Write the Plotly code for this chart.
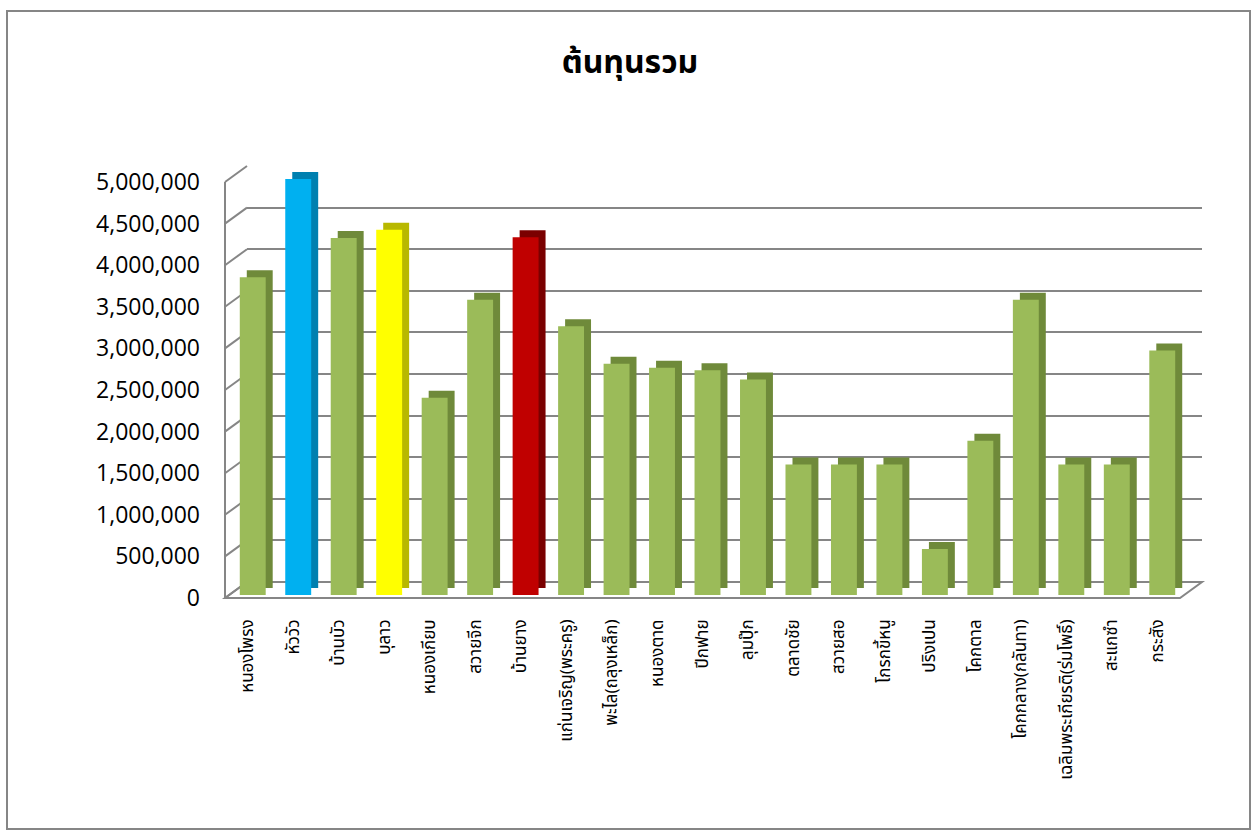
import plotly.graph_objects as go

# ---------------- data ----------------
categories = [
    "หนองโพรง", "หัววัว", "บ้านบัว", "บุลาว", "หนองเกียบ", "สวายจีก", "บ้านยาง",
    "แก่นเจริญ(พระครู)", "พะไล(ถลุงเหล็ก)", "หนองตาด", "ปีกฟาย", "ลุมปุ๊ก",
    "ตลาดชัย", "สวายสอ", "โกรกขี้หนู", "ปริงเปน", "โคกตาล", "โคกกลาง(กลันทา)",
    "เฉลิมพระเกียรติ(ร่มโพธิ์)", "สะแกซำ", "กระสัง",
]
values = [
    3820000, 5000000, 4290000, 4390000, 2370000, 3550000, 4300000,
    3230000, 2780000, 2730000, 2700000, 2590000,
    1570000, 1570000, 1570000, 553000, 1855000, 3550000,
    1570000, 1570000, 2940000,
]
tick_values = [0, 500000, 1000000, 1500000, 2000000, 2500000,
               3000000, 3500000, 4000000, 4500000, 5000000]
title_text = "ต้นทุนรวม"

# ---------------- styles ----------------
highlight = {"หัววัว": ("#00B0F0", "#0080B0"),
             "บุลาว": ("#FFFF00", "#B8B800"),
             "บ้านยาง": ("#C00000", "#7A0000")}
front_colors = [highlight.get(c, ("#9BBB59", ""))[0] for c in categories]
side_colors = [highlight.get(c, ("", "#6F8A3A"))[1] for c in categories]

W, H = 1257, 832
L, R, T, B = 225, 50, 164, 234
PW = W - L - R   # 982
PH = H - T - B   # 434
DX, DY = 22, 16          # depth offset of back wall
FRONT_W = 955            # front axis length
FRONT_H = 416            # 0 -> 5M on front axis
YMAX = 5000000
grid_col = "#868686"
thai_font = "Noto Sans Thai, Tahoma, Noto Sans, sans-serif"

fig = go.Figure()

# invisible trace on the front axes (category labels / value ticks)
fig.add_trace(go.Scatter(x=categories, y=[0] * len(categories), xaxis="x", yaxis="y",
                         mode="markers", marker=dict(opacity=0),
                         showlegend=False, hoverinfo="skip"))
# invisible trace to activate back-wall axes
fig.add_trace(go.Scatter(x=categories, y=[0] * len(categories), xaxis="x2", yaxis="y2",
                         mode="markers", marker=dict(opacity=0),
                         showlegend=False, hoverinfo="skip"))
# depth (side/top) faces
fig.add_trace(go.Bar(x=categories, y=values, xaxis="x3", yaxis="y3",
                     marker=dict(color=side_colors, line=dict(width=0)),
                     width=0.57, showlegend=False, hoverinfo="skip"))
# front faces
fig.add_trace(go.Bar(x=categories, y=values, xaxis="x4", yaxis="y4",
                     marker=dict(color=front_colors, line=dict(width=0)),
                     width=0.57, showlegend=False))

def dom_x(off, length):
    return [off / PW, min(1.0, (off + length) / PW)]

def dom_y(off, length):
    return [off / PH, min(1.0, (off + length) / PH)]

xr = [-0.5, len(categories) - 0.5]
hidden = dict(showgrid=False, showticklabels=False, zeroline=False,
              showline=False, ticks="", automargin=False)

fig.update_layout(
    width=W, height=H,
    margin=dict(l=L, r=R, t=T, b=B, pad=0),
    paper_bgcolor="white", plot_bgcolor="rgba(0,0,0,0)",
    bargap=0.43,
    title=dict(text=f"<b>{title_text}</b>", x=630 / W, xanchor="center",
               y=1 - 62 / H, yanchor="middle", yref="container",
               font=dict(family=thai_font, size=32, color="black")),
    xaxis=dict(domain=dom_x(0, FRONT_W), range=xr, type="category",
               tickangle=-90, showgrid=False, zeroline=False, showline=False,
               ticks="", automargin=False, ticklabelstandoff=17,
               tickfont=dict(family=thai_font, size=17, color="black"),
               anchor="y"),
    yaxis=dict(domain=[0, 1], range=[0, YMAX * PH / FRONT_H], tickvals=tick_values,
               tickformat=",", showgrid=False, zeroline=False, showline=False,
               ticks="", automargin=False, ticklabelstandoff=24,
               tickfont=dict(family="Open Sans", size=23, color="black"),
               anchor="x"),
    xaxis2=dict(domain=dom_x(DX, FRONT_W), range=xr, type="category",
                anchor="y2", **hidden),
    yaxis2=dict(domain=dom_y(DY, FRONT_H), range=[0, YMAX], tickvals=tick_values,
                showgrid=True, gridcolor=grid_col, gridwidth=2,
                showticklabels=False, zeroline=False, showline=False, ticks="",
                automargin=False, anchor="x2"),
    xaxis3=dict(domain=dom_x(12, FRONT_W), range=xr, type="category",
                anchor="y3", **hidden),
    yaxis3=dict(domain=dom_y(10, FRONT_H), range=[0, YMAX], anchor="x3", **hidden),
    xaxis4=dict(domain=dom_x(5, FRONT_W), range=xr, type="category",
                anchor="y4", **hidden),
    yaxis4=dict(domain=dom_y(3, FRONT_H), range=[0, YMAX], anchor="x4", **hidden),
)

shapes = []
# floor parallelogram
fx1 = FRONT_W / PW
bx0, bx1 = DX / PW, (DX + FRONT_W) / PW
by = DY / PH
shapes.append(dict(type="path", xref="paper", yref="paper", layer="below",
                   path=f"M 0 0 L {fx1} 0 L {bx1} {by} L {bx0} {by} Z",
                   line=dict(color=grid_col, width=2), fillcolor="white"))
# front vertical edge of the side wall
shapes.append(dict(type="line", xref="paper", yref="y", layer="below",
                   x0=0, y0=0, x1=0, y1=YMAX,
                   line=dict(color=grid_col, width=2)))
# left side-wall diagonals at each tick
dv = DY / FRONT_H * YMAX
for t in tick_values:
    shapes.append(dict(type="line", xref="paper", yref="y", layer="below",
                       x0=0, y0=t, x1=DX / PW, y1=t + dv,
                       line=dict(color=grid_col, width=2)))
# outer chart border
shapes.append(dict(type="rect", xref="paper", yref="paper",
                   x0=(7 - L) / PW, x1=(1250 - L) / PW,
                   y0=(H - B - 829) / PH, y1=(H - B - 11) / PH,
                   line=dict(color=grid_col, width=2), fillcolor="rgba(0,0,0,0)"))
fig.update_layout(shapes=shapes)

fig.write_html("out.html", config={"displayModeBar": False},
               post_script="document.body.style.margin='0';")
